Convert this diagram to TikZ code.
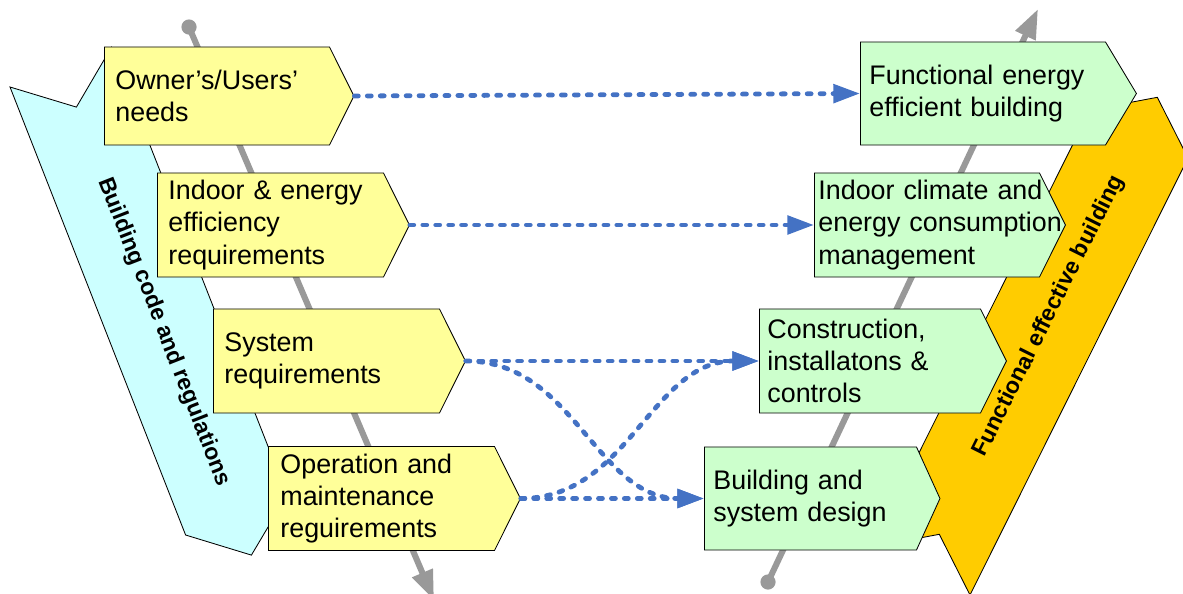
\documentclass[tikz,border=0pt]{standalone}
\usepackage{fontspec}
\setmainfont{Liberation Sans}
\usetikzlibrary{shapes.symbols, arrows.meta}

\definecolor{reqyellow}{HTML}{FFFF99}
\definecolor{resgreen}{HTML}{CCFFCC}
\definecolor{codecyan}{HTML}{CCFFFF}
\definecolor{effectgold}{HTML}{FFCC00}
\definecolor{linkblue}{HTML}{4472C4}
\definecolor{vgray}{HTML}{999999}

\newcommand{\boxfont}{\fontsize{19.1}{23}\selectfont}
\newcommand{\bandfont}{\fontsize{16.3}{19}\selectfont\bfseries}

\tikzset{
	ybox/.style = {shape = signal, signal from = nowhere, signal to = east, signal pointer angle = 127,
		draw = black, line width = 0.6pt, fill = reqyellow, anchor = west, align = left,
		inner xsep = 0.275cm, inner ysep = 0pt, minimum height = 2.6cm, text width = 5.1cm, font = \boxfont},
	gbox/.style = {ybox, fill = resgreen},
	link/.style = {draw = linkblue, line width = 3.4pt, line cap = round, dash pattern = on 2.8pt off 6.4pt,
		-{Triangle[length = 19pt, width = 13pt]}},
	vline/.style = {draw = vgray, line width = 4.3pt, -{Triangle[length = 21pt, width = 15pt]}},
	band/.style = {draw = black, line width = 0.6pt},
	bandtext/.style = {font = \bandfont, inner sep = 0pt},
}

\begin{document}
\begin{tikzpicture}[x = 0.025cm, y = -0.025cm]
	\useasboundingbox (0,0) rectangle (1183,593);
	
	% building code band
	\draw[band, fill = codecyan] (10,87) -- (76.4,107.1) -- (111.5,47.2) -- (287.1,495) -- (251.4,555.1) -- (185.6,535) -- cycle;
	\node[bandtext, rotate = -68.6] (codes) at (164,332) {Building code and regulations};
	
	% functional building band
	\draw[band, fill = effectgold] (872,547) -- (939.3,534.3) -- (970,595) -- (1188,158) -- (1157.3,97.3) -- (1090,110) -- cycle;
	\node[bandtext, rotate = 63.5] (effect) at (1049,316) {Functional effective building};
	
	% process lines
	\coordinate (ltop) at (189,27);
	\coordinate (lend) at (434,600);
	\coordinate (rbot) at (768,582);
	\coordinate (rend) at (1038,9);
	\draw[vline] (ltop) -- (lend);
	\draw[vline] (rbot) -- (rend);
	\fill[vgray] (ltop) circle (0.19cm);
	\fill[vgray] (rbot) circle (0.19cm);
	
	% requirements
	\node[ybox, minimum height = 2.45cm, text width = 5.075cm] (own) at (104,96) {Owner’s/Users’\\needs};
	\node[ybox] (ind) at (157,225) {Indoor \& energy\\efficiency\\requirements};
	\node[ybox] (sys) at (213,361) {System\\requirements};
	\node[ybox, inner xsep = 0.3cm, text width = 5.05cm] (ope) at (268,498.5) {Operation and\\maintenance\\reguirements};
	
	% results
	\node[gbox, signal pointer angle = 118, inner xsep = 0.225cm, text width = 5.675cm, minimum height = 2.575cm] (fun) at (860,93.5) {Functional energy\\efficient building};
	\node[gbox, inner xsep = 0.1cm, text width = 5.425cm] (cli) at (814,225) {\mbox{Indoor climate and}\\\mbox{energy consumption}\\management};
	\node[gbox, inner xsep = 0.2cm, text width = 5.125cm] (con) at (759,361) {Construction,\\installatons \&\\controls};
	\node[gbox, signal pointer angle = 131, inner xsep = 0.225cm, text width = 4.85cm, minimum height = 2.575cm] (bld) at (704,498.5) {Building and\\system design};
	
	% links
	\draw[link] (own.east) -- (fun.west);
	\draw[link] (ind.east) -- (cli.west);
	\draw[link] (sys.east) -- (con.west);
	\draw[link] (sys.east) to[out = 0, in = 180] (bld.west);
	\draw[link] (ope.east) -- (bld.west);
	\draw[link] (ope.east) to[out = 0, in = 180] (con.west);
\end{tikzpicture}
\end{document}
